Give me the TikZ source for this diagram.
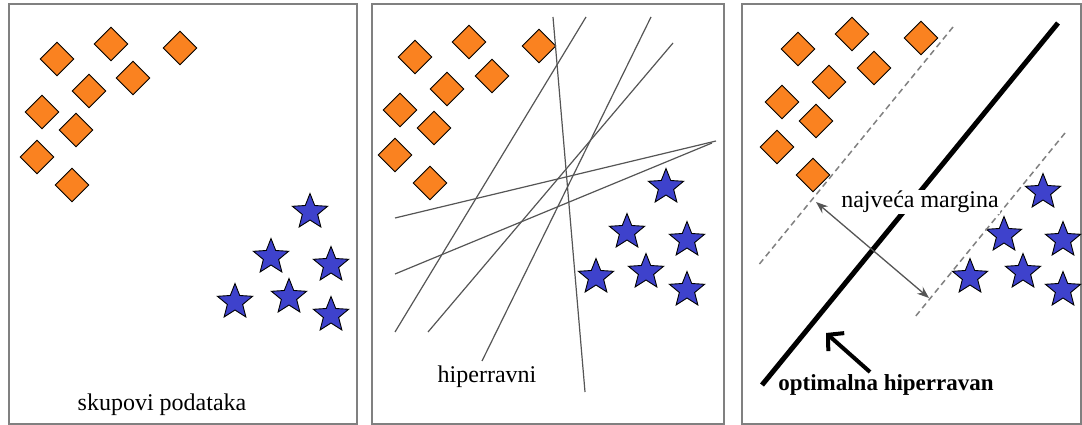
\documentclass[tikz,border=0pt]{standalone}
\usepackage{fontspec}
\setmainfont{Liberation Serif}
\usetikzlibrary{shapes.geometric,arrows.meta}
\definecolor{dorange}{RGB}{250,130,32}
\definecolor{sblue}{RGB}{62,66,204}
\definecolor{framegray}{RGB}{128,128,128}
\definecolor{hypgray}{RGB}{85,85,85}
\tikzset{
 dpoint/.style={diamond, draw=black, line width=0.9pt, fill=dorange, minimum width=34pt, minimum height=34pt, inner sep=0pt},
 spoint/.style={star, star points=5, star point ratio=2.3, draw=black, line width=0.9pt, fill=sblue, minimum size=37pt, inner sep=0pt},
 panel/.style={draw=framegray, line width=2pt},
 hyper/.style={draw=hypgray, line width=1.2pt},
 lbl/.style={font=\fontsize{24}{28}\selectfont, inner sep=1pt, text=black},
 blbl/.style={font=\fontsize{23}{27}\selectfont\bfseries, inner sep=1pt, text=black},
 margin/.style={draw=gray, line width=1.5pt, dash pattern=on 6pt off 4pt},
 optimal/.style={draw=black, line width=5pt},
}
\begin{document}
\begin{tikzpicture}[x=1pt,y=-1pt]
\useasboundingbox (0,0) rectangle (1082,425);
% frames
\draw[panel] (8.5,4) rectangle (357,423.5);
\draw[panel] (372,4) rectangle (724,423.5);
\draw[panel] (742,4) rectangle (1081,423.5);

% panel 1
\foreach \n/\x/\y in {1/57/59,2/111/44,3/180/48,4/133/78,5/89/91,6/42/112,7/76/130,8/37/157,9/72/185}
  \node[dpoint] (a\n) at (\x,\y) {};
\foreach \n/\x/\y in {1/310/212,2/271/257,3/331/265,4/289/297,5/235/302,6/331/315}
  \node[spoint] (as\n) at (\x,\y) {};
\node[lbl] (t1) at (162,405) {skupovi podataka};

% panel 2
\foreach \n/\x/\y in {1/415/57,2/469/42,3/539/46,4/492/76,5/447/89,6/400/110,7/434/128,8/395/155,9/430/183}
  \node[dpoint] (b\n) at (\x,\y) {};
\foreach \n/\x/\y in {1/666/187,2/627/232,3/687/240,4/646/272,5/596/277,6/687/290}
  \node[spoint] (bs\n) at (\x,\y) {};
\coordinate (h1a) at (553,17);  \coordinate (h1b) at (585,392);
\coordinate (h2a) at (586,17);  \coordinate (h2b) at (395,332);
\coordinate (h3a) at (651,17);  \coordinate (h3b) at (482,361);
\coordinate (h4a) at (673,43);  \coordinate (h4b) at (428,332);
\coordinate (h5a) at (716,141); \coordinate (h5b) at (395,218);
\coordinate (h6a) at (712,143); \coordinate (h6b) at (395,274);
\foreach \n in {1,...,6} \draw[hyper] (h\n a) -- (h\n b);
\node[lbl] (t2) at (487,377) {hiperravni};

% panel 3
\foreach \n/\x/\y in {1/798/49,2/852/34,3/921/38,4/874/68,5/829/82,6/782/102,7/816/121,8/777/147,9/813/175}
  \node[dpoint] (c\n) at (\x,\y) {};
\foreach \n/\x/\y in {1/1043/192,2/1004/235,3/1063/240,4/1023/272,5/970/277,6/1063/290}
  \node[spoint] (cs\n) at (\x,\y) {};
\coordinate (u1) at (953,27);  \coordinate (u2) at (757,267);
\coordinate (l1) at (1065,133); \coordinate (l2) at (915,317);
\draw[margin] (u1) -- (u2);
\draw[margin] (l1) -- (l2);
\coordinate (o1) at (1058,23); \coordinate (o2) at (762,385);
\draw[optimal] (o1) -- (o2);
\node[lbl, fill=white] (t3) at (920,202) {najveća margina};
\coordinate (m1) at (816,202); \coordinate (m2) at (929,298);
\draw[draw=hypgray, line width=1.3pt, {Stealth[length=12pt,width=9pt]}-{Stealth[length=12pt,width=9pt]}] (m1) -- (m2);
\coordinate (p1) at (870,372); \coordinate (p2) at (826,333);
\draw[line width=4pt, -{Straight Barb[length=11pt,width=24pt]}] (p1) -- (p2);
\node[blbl] (t4) at (886,385) {optimalna hiperravan};
\end{tikzpicture}
\end{document}
